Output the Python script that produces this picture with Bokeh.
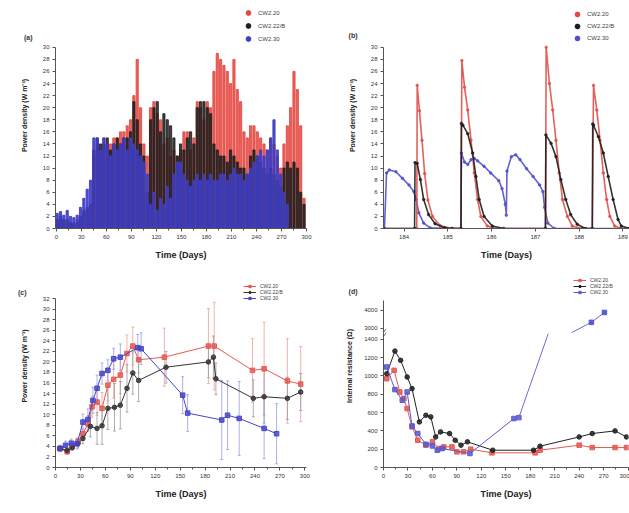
from bokeh.plotting import figure
from bokeh.layouts import column, row
from bokeh.models import (Range1d, Legend, LegendItem, FixedTicker, Whisker, ColumnDataSource, TeeHead,
                          LinearAxis)
from bokeh.embed import file_html
from bokeh.resources import INLINE

RED = "#e4473f"
BLACK = "#1e1e1e"
BLUE = "#3d3dc4"
FONT = "Liberation Sans"
NAN = float("nan")

series_names = ["CW2.20", "CW2.22/B", "CW2.30"]
panel_names = ["(a)", "(b)", "(c)", "(d)"]

# ---------------- (a) long-term power density ----------------
a_days = [1, 5, 9, 13, 17, 21, 25, 29, 33, 37, 41, 45, 49, 53, 57, 61, 65, 69, 73, 77, 81, 85, 89, 93, 97,
          101, 105, 109, 113, 117, 121, 125, 129, 133, 137, 141, 145, 149, 153, 157, 161, 165, 169, 173, 177,
          181, 185, 189, 193, 197, 201, 205, 209, 213, 217, 221, 225, 229, 233, 237, 241, 245, 249, 253, 257,
          261, 265, 269, 273, 277, 281, 285, 289, 293, 297]
a_red = [1.0, 2.0, 1.5, 1.0, 0.8, 1.0, 1.5, 2.0, 2.5, 3.0, 4.0, 12, 14, 13, 15, 14, 14, 15, 15, 16, 16, 17, 18, 22, 28,
         20, 14, 12, 20, 21, 19, 18, 14, 15, 12, 13, 12, 13, 16, 16, 13, 15, 21, 20, 18,
         21, 20, 26, 29, 28, 27, 26, 24, 28, 23, 21, 16, 15, 17, 17, 16, 15, 14, 13, 15,
         14, 12, 10, 14, 17, 20, 26, 23, 17, 5]
a_black = [1.5, 2.0, 1.5, 1.5, 1.0, 0.8, 1.0, 2.0, 3.0, 3.5, 4.0, 13, 15, 14, 14, 15, 13, 14, 15, 14, 15, 15, 16, 21, 18,
           14, 12, 6, 18, 20, 21, 16, 19, 18, 17, 15, 12, 14, 13, 15, 16, 14, 20, 21, 21,
           20, 19, 14, 13, 12, 12, 11, 13, 12, 11, 10, 10, 9, 12, 13, 12, 11, 10, 9, 10,
           9, 8, 7, 10, 11, 10, 11, 10, 6, 4]
a_blue = [2.5, 2.8, 2.2, 3.0, 2.0, 1.8, 2.2, 3.5, 5.0, 6.5, 8.0, 15, 15, 13, 15, 14, 12, 14, 13, 14, 15, 13, 15, 14, 13,
          12, 11, 9, 4, 6, 3, 5, 4, 7, 5, 9, 11, 11, 9, 8, 7, 8, 9, 8, 9,
          8, 9, 8, 8, 9, 9, 8, 9, 10, 9, 9, 8, 9, 10, 11, 12, 13, 12, 13, 15,
          18, 13, 9, 6, 4, 0, 0, 0, 0, 0]

# ---------------- (b) detail, days 184-189 ----------------
b_red_t = [183.53, 184.29, 184.30, 184.351, 184.410, 184.470, 184.545, 184.649, 184.821, 185.082,
           185.30, 185.32, 185.381, 185.455, 185.530, 185.604, 185.679, 185.754, 185.903, 186.052,
           187.23, 187.246, 187.321, 187.396, 187.470, 187.545, 187.619, 187.731, 187.843, 188.067,
           188.30, 188.328, 188.403, 188.478, 188.552, 188.627, 188.701, 188.813, 188.963, 189.15]
b_red_v = [0, 0, 23.7, 19.5, 14.6, 9.1, 4.7, 2.0, 0.5, 0,
           0, 27.8, 23.4, 19.6, 14.6, 9.2, 4.8, 2.0, 0.4, 0,
           0, 30.0, 24.0, 19.6, 14.6, 9.2, 4.8, 2.0, 0.4, 0,
           0, 23.7, 19.6, 14.6, 9.2, 4.8, 2.0, 0.4, 0, 0]
b_black_t = [183.53, 184.24, 184.25, 184.299, 184.373, 184.448, 184.560, 184.709, 184.933, 185.10,
             185.30, 185.31, 185.343, 185.455, 185.567, 185.642, 185.716, 185.828, 186.015, 186.276,
             187.23, 187.24, 187.358, 187.470, 187.582, 187.694, 187.806, 187.955, 188.142,
             188.30, 188.31, 188.328, 188.440, 188.552, 188.664, 188.776, 188.888, 188.963, 189.15]
b_black_v = [0, 0, 10.9, 10.8, 8.1, 4.8, 2.3, 0.8, 0.1, 0,
             0, 17.4, 17.1, 15.7, 12.5, 8.6, 4.8, 2.0, 0.4, 0,
             0, 15.5, 14.1, 11.9, 8.1, 4.8, 2.3, 0.7, 0,
             0, 17.3, 17.1, 15.2, 12.5, 8.6, 4.8, 1.5, 0.4, 0]
b_blue_t = [183.53, 183.552, 183.60, 183.664, 183.813, 183.963, 184.112, 184.224, 184.276, 184.336, 184.448, 184.597,
            185.30, 185.31, 185.381, 185.455, 185.530, 185.604, 185.679, 185.828, 185.978, 186.164, 186.239,
            186.313, 186.336, 186.351, 186.45, 186.55, 186.649, 186.799, 186.948, 187.097, 187.172, 187.209,
            187.284, 187.433, 189.15]
b_blue_v = [0, 0, 9.2, 9.7, 9.4, 8.3, 7.2, 6.1, 4.8, 2.6, 0.9, 0.1,
            0, 12.5, 11.0, 10.6, 11.4, 11.6, 11.2, 10.3, 9.2, 7.9, 6.6,
            4.0, 2.2, 9.5, 11.9, 12.2, 11.4, 9.9, 8.6, 7.2, 6.1, 3.5,
            0.9, 0, 0]

# ---------------- (c) averaged power density ----------------
c_red_t = [6, 14, 20, 27, 33, 39, 44, 50, 56, 63, 70, 78, 86, 93, 100, 131, 184, 191, 237, 251, 279, 295]
c_red_v = [3.6, 3.0, 3.9, 4.9, 6.4, 8.3, 11.5, 12.4, 11.2, 15.6, 16.7, 17.5, 21.6, 23.0, 20.4, 20.9, 23.0, 23.0,
           18.4, 18.7, 16.4, 15.8]
c_red_e = [0.5, 0.5, 0.6, 0.8, 1.0, 1.5, 2.0, 2.5, 3.0, 3.0, 3.5, 3.5, 3.5, 3.6, 2.5, 5.5, 7.1, 8.3, 6.0, 8.8,
           8.0, 7.1]
c_black_t = [6, 14, 20, 27, 33, 42, 50, 56, 63, 71, 78, 86, 93, 100, 133, 184, 190, 193, 238, 251, 279, 295]
c_black_v = [3.6, 3.2, 3.8, 4.5, 5.5, 7.8, 7.4, 7.9, 11.2, 11.4, 11.8, 15.0, 17.9, 16.5, 19.0, 20.0, 20.9, 16.8,
             13.1, 13.4, 13.1, 14.3]
c_black_e = [0.5, 0.5, 0.6, 0.8, 1.0, 2.0, 3.0, 3.5, 4.0, 4.5, 4.5, 4.5, 4.0, 4.0, 3.0, 3.0, 4.0, 3.0, 3.5, 5.0,
             4.0, 3.5]
c_blue_t = [5, 12, 19, 26, 33, 39, 45, 50, 56, 63, 70, 78, 99, 103, 153, 159, 200, 207, 221, 251, 266]
c_blue_v = [3.6, 4.2, 4.6, 4.5, 8.6, 9.1, 12.7, 15.0, 17.8, 18.4, 20.6, 20.9, 22.7, 22.5, 13.7, 10.3, 9.0, 9.9,
            9.3, 7.4, 6.4]
c_blue_e = [0.6, 0.8, 0.8, 1.0, 1.5, 2.0, 2.5, 2.5, 2.0, 2.0, 2.0, 2.5, 2.5, 3.0, 3.5, 3.5, 7.5, 6.5, 7.0, 5.7, 5.7]

# ---------------- (d) internal resistance ----------------
d_red_t = [4, 13, 20, 25, 29, 35, 42, 52, 60, 68, 74, 84, 90, 98, 107, 133, 186, 192, 240, 256, 284, 298]
d_red_v = [970, 1062, 825, 753, 644, 444, 298, 244, 280, 207, 225, 225, 171, 171, 200, 160, 160, 189, 244, 218,
           218, 218]
d_black_t = [4, 14, 21, 29, 35, 44, 52, 58, 64, 70, 81, 88, 95, 103, 134, 184, 192, 240, 256, 284, 298]
d_black_v = [1025, 1272, 1171, 989, 862, 498, 571, 553, 334, 389, 371, 298, 244, 280, 189, 189, 233, 334, 371,
             400, 334]
d_blue_t = [4, 14, 23, 29, 35, 42, 52, 60, 66, 72, 106, 160, 166]
d_blue_v = [1098, 851, 735, 825, 454, 371, 254, 236, 189, 207, 153, 535, 545]
d_blue_hi_t = [255, 271]
d_blue_hi_v = [3330, 3870]
d_blue_exit = (202, 1460)   # line leaves the lower segment at the axis break
d_blue_entry = (231, 1475)  # line re-enters the upper segment
d_break_low, d_break_high = 1400, 3000
d_lower_ticks = [0, 200, 400, 600, 800, 1000, 1200, 1400]
d_upper_ticks = [3000, 4000]


def brk(v):
    if v <= d_break_low:
        return v
    return d_break_low + 120 + (v - d_break_high) / 1000 * 200


def style(p, yticks, xticks, ybounds, minor_x=True):
    p.grid.visible = False
    p.outline_line_color = None
    p.background_fill_color = "white"
    p.border_fill_color = "white"
    for ax in (p.xaxis[0], p.yaxis[0]):
        ax.axis_line_color = "#555555"
        ax.major_tick_line_color = "#555555"
        ax.minor_tick_line_color = "#555555"
        ax.major_tick_out = 3
        ax.major_tick_in = 0
        ax.minor_tick_out = 2
        ax.minor_tick_in = 0
        ax.major_label_text_font = FONT
        ax.major_label_text_font_size = "6px"
        ax.major_label_text_color = "#333333"
        ax.axis_label_text_font = FONT
        ax.axis_label_text_font_style = "bold"
        ax.axis_label_text_color = "#222222"
        ax.major_label_standoff = 3
    p.yaxis[0].bounds = ybounds
    p.yaxis[0].ticker = FixedTicker(ticks=yticks, minor_ticks=[])
    p.xaxis[0].ticker = FixedTicker(ticks=xticks,
                                    minor_ticks=[t + (xticks[1] - xticks[0]) / 2 for t in xticks[:-1]] if minor_x else [])
    p.xaxis[0].axis_label = "Time (Days)"
    p.xaxis[0].axis_label_text_font_size = "9px"
    p.yaxis[0].axis_label_text_font_size = "7px"
    p.xaxis[0].axis_label_standoff = 8


def panel_label(p, text, yval, shift):
    ax = LinearAxis(ticker=FixedTicker(ticks=[yval], minor_ticks=[]), major_label_overrides={yval: text},
                    bounds=(yval * 0.99, yval * 1.01), axis_line_color=None, major_tick_line_color=None,
                    minor_tick_line_color=None, major_label_text_font=FONT, major_label_text_font_size="7px",
                    major_label_text_font_style="bold", major_label_text_color="#333333",
                    major_label_standoff=-shift)
    p.add_layout(ax, "left")


def legend(p, items, x, y, font_size, row_h, glyph_w):
    p.add_layout(Legend(items=items, location=(x, y), orientation="vertical", background_fill_alpha=0,
                        border_line_color=None, label_text_font=FONT, label_text_font_size=font_size,
                        label_text_color="#444444", glyph_height=row_h, glyph_width=glyph_w,
                        label_height=row_h, spacing=0, padding=0, margin=0, label_standoff=4), "center")


common = dict(output_backend="svg", toolbar_location=None)
ticks30 = list(range(0, 31, 2))
xt300 = list(range(0, 301, 30))

# ---- (a)   frame: x 55..306, y 2..229 ; value 30 sits at y=47
pa = figure(width=320, height=262, x_range=Range1d(-1, 300), y_range=Range1d(0, 37.42),
            min_border_left=55, min_border_right=14, min_border_top=2, min_border_bottom=33, **common)
pa.vbar(x=a_days, top=a_red, width=2.6, bottom=0, color=RED, alpha=0.85)
pa.vbar(x=a_days, top=a_black, width=2.6, bottom=0, color=BLACK, alpha=0.85)
pa.vbar(x=a_days, top=a_blue, width=2.6, bottom=0, color=BLUE, alpha=0.9)
style(pa, ticks30, xt300, (0, 30))
pa.yaxis[0].axis_label = "Power density (W m⁻³)"
pa.yaxis[0].axis_label_standoff = 12
la = [pa.scatter([NAN], [NAN], marker="circle", size=6, color=c) for c in (RED, BLACK, BLUE)]
legend(pa, [LegendItem(label=n, renderers=[r]) for n, r in zip(series_names, la)], 187, 183, "6px", 13, 12)
panel_label(pa, panel_names[0], 31.6, 21)

# ---- (b)   frame: x 383..629, y 2..229
pb = figure(width=309, height=262, x_range=Range1d(183.53, 189.15), y_range=Range1d(0, 37.42),
            min_border_left=63, min_border_right=0, min_border_top=2, min_border_bottom=33, **common)
for t, v, c in ((b_blue_t, b_blue_v, "#5050cc"), (b_red_t, b_red_v, "#e0504a"), (b_black_t, b_black_v, BLACK)):
    pb.line(t, v, color=c, line_width=1.6, alpha=0.9)
    pb.scatter(t, v, marker="circle", size=2.5, color=c, alpha=0.8)
style(pb, ticks30, [184, 185, 186, 187, 188, 189], (0, 30), minor_x=False)
pb.yaxis[0].axis_label = "Power density (W m⁻³)"
pb.yaxis[0].axis_label_standoff = 12
lb = [pb.scatter([NAN], [NAN], marker="circle", size=5, color=c) for c in (RED, BLACK, "#5050cc")]
legend(pb, [LegendItem(label=n, renderers=[r]) for n, r in zip(series_names, lb)], 188, 184, "6px", 12, 12)
panel_label(pb, panel_names[1], 31.9, 18)

# ---- (c)   frame: x 55..306, y 264..467 ; value 32 sits at y=298
pc = figure(width=320, height=251, x_range=Range1d(0, 302), y_range=Range1d(0, 38.45),
            min_border_left=55, min_border_right=14, min_border_top=2, min_border_bottom=46, **common)
c_cols = ("#e35a52", "#333333", "#4545c8")
c_ecols = ("#f0a09a", "#9a9a9a", "#9a9ae0")
c_marks = ("square", "circle", "square")
lc_items = []
for n, t, v, e, col, ecol, mk in zip(series_names, (c_red_t, c_black_t, c_blue_t), (c_red_v, c_black_v, c_blue_v),
                                     (c_red_e, c_black_e, c_blue_e), c_cols, c_ecols, c_marks):
    src = ColumnDataSource(dict(x=t, y=v, lo=[a - b for a, b in zip(v, e)], hi=[a + b for a, b in zip(v, e)]))
    pc.add_layout(Whisker(source=src, base="x", upper="hi", lower="lo", line_color=ecol, line_width=0.8,
                          upper_head=TeeHead(size=3, line_color=ecol, line_width=0.8),
                          lower_head=TeeHead(size=3, line_color=ecol, line_width=0.8)))
    rl = pc.line("x", "y", source=src, color=col, line_width=1.0)
    rs = pc.scatter("x", "y", source=src, marker=mk, size=4.5, color=col, fill_alpha=0.8)
    lc_items.append(LegendItem(label=n, renderers=[rl, rs]))
style(pc, list(range(0, 33, 2)), xt300, (0, 32))
pc.yaxis[0].axis_label = "Power density (W m⁻³)"
pc.yaxis[0].axis_label_standoff = 12
legend(pc, lc_items, 188, 166, "5px", 6, 13)
panel_label(pc, panel_names[2], 33.1, 15)

# ---- (d)   frame: x 383..628, y 264..467 ; top of axis (1825) sits at y=300
pd_ = figure(width=309, height=251, x_range=Range1d(0, 300.5), y_range=Range1d(0, 2218),
             min_border_left=63, min_border_right=1, min_border_top=2, min_border_bottom=46, **common)
d_cols = ("#e35a52", "#222222", "#5a5ad0")
ld_items = []
for n, t, v, col, mk in zip(series_names, (d_red_t, d_black_t, d_blue_t), (d_red_v, d_black_v, d_blue_v),
                            d_cols, c_marks):
    rl = pd_.line(t, [brk(x) for x in v], color=col, line_width=1.0)
    rs = pd_.scatter(t, [brk(x) for x in v], marker=mk, size=4.5, color=col, fill_alpha=0.85)
    ld_items.append(LegendItem(label=n, renderers=[rl, rs]))
pd_.line([d_blue_t[-1], d_blue_exit[0]], [brk(d_blue_v[-1]), d_blue_exit[1]], color="#6a6ad6", line_width=1.0)
pd_.line([d_blue_entry[0]] + d_blue_hi_t, [d_blue_entry[1]] + [brk(x) for x in d_blue_hi_v],
         color="#6a6ad6", line_width=1.0)
pd_.scatter(d_blue_hi_t, [brk(x) for x in d_blue_hi_v], marker="square", size=4.5, color="#5a5ad0")
# axis-break mark
pd_.segment(x0=[0, 0], y0=[1430, 1475], x1=[3, 3], y1=[1470, 1515], color="#555555", line_width=0.8)
style(pd_, d_lower_ticks + [brk(x) for x in d_upper_ticks], xt300, (0, 1825))
pd_.yaxis[0].major_label_overrides = {brk(x): str(x) for x in d_upper_ticks}
pd_.yaxis[0].axis_label = "Internal resistance (Ω)"
pd_.yaxis[0].axis_label_standoff = 8
legend(pd_, ld_items, 190, 172, "5px", 6, 13)
panel_label(pd_, panel_names[3], 1925, 20)

layout = column(row(pa, pb), row(pc, pd_))
open("out.html", "w").write(file_html(layout, INLINE))
